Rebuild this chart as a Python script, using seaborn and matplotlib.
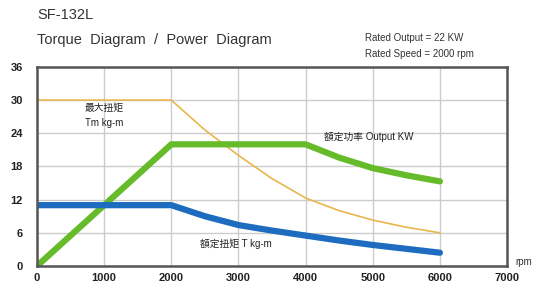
import matplotlib
matplotlib.use("Agg")
import matplotlib.pyplot as plt
import pandas as pd
import seaborn as sns

# rpm points
rpm = [0, 1000, 2000, 2500, 3000, 3500, 4000, 4500, 5000, 5500, 6000]
max_torque = [30, 30, 30, 24.6, 20, 15.8, 12.3, 10.0, 8.3, 7.0, 6.0]      # Tm kg-m
rated_torque = [11, 11, 11, 9.0, 7.4, 6.4, 5.5, 4.6, 3.8, 3.1, 2.4]      # T kg-m
power = [0, 11, 22, 22, 22, 22, 22, 19.6, 17.7, 16.4, 15.3]              # Output KW

x_ticks = [0, 1000, 2000, 3000, 4000, 5000, 6000, 7000]
y_ticks = [0, 6, 12, 18, 24, 30, 36]

df = pd.DataFrame({"rpm": rpm, "Tm": max_torque, "T": rated_torque, "P": power})

sns.set_style("white")
plt.rcParams['font.family'] = ['Liberation Sans', 'Noto Sans CJK TC']

fig = plt.figure(figsize=(5.4, 2.91), dpi=100)
ax = fig.add_axes([0.0685, 0.086, 0.8705, 0.684])

sns.lineplot(data=df, x="rpm", y="Tm", ax=ax, color="#e9b64c", lw=1.2)
sns.lineplot(data=df, x="rpm", y="P", ax=ax, color="#66bb2a", lw=4.5, solid_capstyle="round")
sns.lineplot(data=df, x="rpm", y="T", ax=ax, color="#1d6cc0", lw=4.5, solid_capstyle="round")

ax.set_xlim(0, 7000)
ax.set_ylim(0, 36)
ax.set_xticks(x_ticks)
ax.set_yticks(y_ticks)
ax.set_xticklabels([str(v) for v in x_ticks], fontsize=8, color="#222", fontweight="bold")
ax.set_yticklabels([str(v) for v in y_ticks], fontsize=8, color="#222", fontweight="bold")
ax.tick_params(axis="y", length=0, pad=10)
ax.tick_params(axis="x", length=0, pad=5)
ax.set_xlabel("")
ax.set_ylabel("")
ax.grid(True, color="#cccccc", lw=1)
for s in ax.spines.values():
    s.set_color("#555555")
    s.set_linewidth(1.8)

kw = dict(fontsize=7, va="center", color="#222")
ax.text(1000, 28.6, "最大扭矩", ha="center", **kw)
ax.text(1000, 25.9, "Tm kg-m", ha="center", **kw)
ax.text(4270, 23.3, "額定功率 Output KW", ha="left", **kw)
ax.text(2430, 4.0, "額定扭矩 T kg-m", ha="left", **kw)

fig.text(37 / 540, 1 - 15 / 291, "SF-132L", fontsize=10.5, ha="left", va="center", color="#333")
fig.text(37 / 540, 1 - 40 / 291, "Torque  Diagram  /  Power  Diagram", fontsize=10.5,
         ha="left", va="center", color="#333")
fig.text(365 / 540, 1 - 38 / 291, "Rated Output = 22 KW", fontsize=7, ha="left",
         va="center", color="#333")
fig.text(365 / 540, 1 - 54 / 291, "Rated Speed = 2000 rpm", fontsize=7, ha="left",
         va="center", color="#333")
fig.text(524 / 540, 1 - 262 / 291, "rpm", fontsize=7, ha="center", va="center", color="#333")

fig.savefig("out.png", dpi=100)
